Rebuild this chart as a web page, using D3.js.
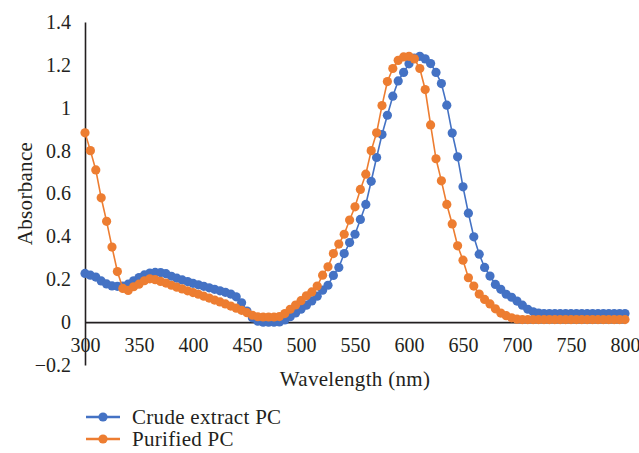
<!DOCTYPE html>
<html>
<head>
<meta charset="utf-8">
<script src="https://cdn.jsdelivr.net/npm/d3@7"></script>
<style>
  body { margin: 0; background: #fff; }
  svg text { font-family: "Liberation Serif", "Times New Roman", serif; fill: #231f20; }
</style>
</head>
<body>
<div id="content"></div>
<script>
// wavelength (nm), one reading every 5 nm
var wavelengths = [300, 305, 310, 315, 320, 325, 330, 335, 340, 345, 350, 355, 360, 365, 370, 375, 380, 385, 390, 395,
                   400, 405, 410, 415, 420, 425, 430, 435, 440, 445, 450, 455, 460, 465, 470, 475, 480, 485, 490, 495,
                   500, 505, 510, 515, 520, 525, 530, 535, 540, 545, 550, 555, 560, 565, 570, 575, 580, 585, 590, 595,
                   600, 605, 610, 615, 620, 625, 630, 635, 640, 645, 650, 655, 660, 665, 670, 675, 680, 685, 690, 695,
                   700, 705, 710, 715, 720, 725, 730, 735, 740, 745, 750, 755, 760, 765, 770, 775, 780, 785, 790, 795,
                   800];

var crudePC = [0.227, 0.219, 0.210, 0.192, 0.178, 0.169, 0.167, 0.168, 0.177, 0.193, 0.208, 0.220, 0.229, 0.232, 0.231, 0.226, 0.214, 0.205, 0.197, 0.189,
               0.181, 0.174, 0.167, 0.160, 0.153, 0.146, 0.139, 0.131, 0.118, 0.090, 0.052, 0.020, 0.004, 0.000, 0.000, 0.000, 0.001, 0.010, 0.025, 0.043,
               0.060, 0.079, 0.099, 0.121, 0.149, 0.172, 0.218, 0.255, 0.320, 0.371, 0.410, 0.479, 0.549, 0.657, 0.768, 0.875, 0.965, 1.054, 1.125, 1.165,
               1.205, 1.232, 1.240, 1.228, 1.206, 1.165, 1.113, 1.012, 0.882, 0.771, 0.631, 0.508, 0.398, 0.317, 0.255, 0.215, 0.176, 0.153, 0.130, 0.116,
               0.098, 0.079, 0.060, 0.048, 0.042, 0.040, 0.040, 0.040, 0.040, 0.040, 0.040, 0.040, 0.040, 0.040, 0.040, 0.040, 0.040, 0.040, 0.040, 0.040,
               0.040];

var purifiedPC = [0.883, 0.800, 0.710, 0.580, 0.470, 0.350, 0.236, 0.157, 0.148, 0.165, 0.177, 0.193, 0.202, 0.198, 0.190, 0.182, 0.172, 0.163, 0.155, 0.146,
                  0.138, 0.130, 0.121, 0.112, 0.103, 0.094, 0.085, 0.075, 0.065, 0.055, 0.044, 0.032, 0.025, 0.024, 0.024, 0.024, 0.026, 0.040, 0.060, 0.080,
                  0.100, 0.123, 0.141, 0.168, 0.219, 0.258, 0.320, 0.364, 0.410, 0.476, 0.538, 0.619, 0.690, 0.800, 0.883, 1.010, 1.122, 1.183, 1.221, 1.237,
                  1.240, 1.228, 1.183, 1.085, 0.920, 0.762, 0.659, 0.549, 0.458, 0.356, 0.289, 0.207, 0.168, 0.131, 0.106, 0.085, 0.062, 0.042, 0.030, 0.020,
                  0.014, 0.012, 0.012, 0.012, 0.012, 0.012, 0.012, 0.012, 0.012, 0.012, 0.012, 0.012, 0.012, 0.012, 0.012, 0.012, 0.012, 0.012, 0.012, 0.012,
                  0.012];

var xTicks = [300, 350, 400, 450, 500, 550, 600, 650, 700, 750, 800];
var yTicks = [-0.2, 0, 0.2, 0.4, 0.6, 0.8, 1, 1.2, 1.4];

var seriesNames = ['Crude extract PC', 'Purified PC'];
var seriesColors = ['#4472C4', '#ED7D31'];

var width = 639,
    height = 453;

var xScale = d3.scaleLinear()
                .domain([300, 800])
                .range([85, 625]);

var yScale = d3.scaleLinear()
                .domain([-0.2, 1.4])
                .range([365, 22]);

var svg = d3.select('#content').append('svg')
    .attr('width', width)
    .attr('height', height)
    .style('background', '#fff');

// y axis (line at x = 300)
var vAxis = d3.axisLeft(yScale)
            .tickValues(yTicks)
            .tickSize(0)
            .tickSizeOuter(0)
            .tickPadding(14)
            .tickFormat(d3.format('~f'));

var vGuide = svg.append('g')
    .attr('transform', 'translate(' + xScale(300) + ',0)')
    .call(vAxis)
vGuide.select('.domain')
    .style('stroke', '#231f20')
    .style('stroke-width', 1.6)
vGuide.selectAll('text')
    .style('font-size', '20px')
    .style('font-family', '"Liberation Serif", serif')

// x axis sits on y = 0
var hAxis = d3.axisBottom(xScale)
            .tickValues(xTicks)
            .tickSize(0)
            .tickSizeOuter(0)
            .tickPadding(16)
            .tickFormat(d3.format('d'));

var hGuide = svg.append('g')
    .attr('transform', 'translate(0,' + yScale(0) + ')')
    .call(hAxis)
hGuide.select('.domain')
    .style('stroke', '#231f20')
    .style('stroke-width', 1.6)
hGuide.selectAll('text')
    .style('font-size', '20px')
    .style('font-family', '"Liberation Serif", serif')

// axis titles
svg.append('text')
    .attr('x', (xScale(300) + xScale(800)) / 2)
    .attr('y', 386)
    .attr('text-anchor', 'middle')
    .style('font-size', '21px')
    .style('letter-spacing', '0.3px')
    .text('Wavelength (nm)');

svg.append('text')
    .attr('transform', 'translate(32,' + ((yScale(1.4) + yScale(-0.2)) / 2) + ') rotate(-90)')
    .attr('text-anchor', 'middle')
    .style('font-size', '21px')
    .style('letter-spacing', '0.3px')
    .text('Absorbance');

// series: crude first, purified drawn over it
var allSeries = [crudePC, purifiedPC];

var line = d3.line()
    .x(function(d, i){ return xScale(wavelengths[i]); })
    .y(function(d){ return yScale(d); });

allSeries.forEach(function(values, s){
    var g = svg.append('g');

    g.append('path')
        .datum(values)
        .attr('d', line)
        .style('fill', 'none')
        .style('stroke', seriesColors[s])
        .style('stroke-width', 1.6);

    g.selectAll('circle').data(values)
        .enter().append('circle')
            .attr('cx', function(d, i){ return xScale(wavelengths[i]); })
            .attr('cy', function(d){ return yScale(d); })
            .attr('r', 4.6)
            .style('fill', seriesColors[s]);
});

// legend
var legend = svg.append('g');
seriesNames.forEach(function(name, s){
    var ly = 417 + s * 22;
    legend.append('line')
        .attr('x1', 86).attr('x2', 120)
        .attr('y1', ly).attr('y2', ly)
        .style('stroke', seriesColors[s])
        .style('stroke-width', 2.5);
    legend.append('circle')
        .attr('cx', 103).attr('cy', ly)
        .attr('r', 4.6)
        .style('fill', seriesColors[s]);
    legend.append('text')
        .attr('x', 132)
        .attr('y', ly + 7)
        .style('font-size', '21px')
        .style('letter-spacing', '0.3px')
        .text(name);
});
</script>
</body>
</html>
